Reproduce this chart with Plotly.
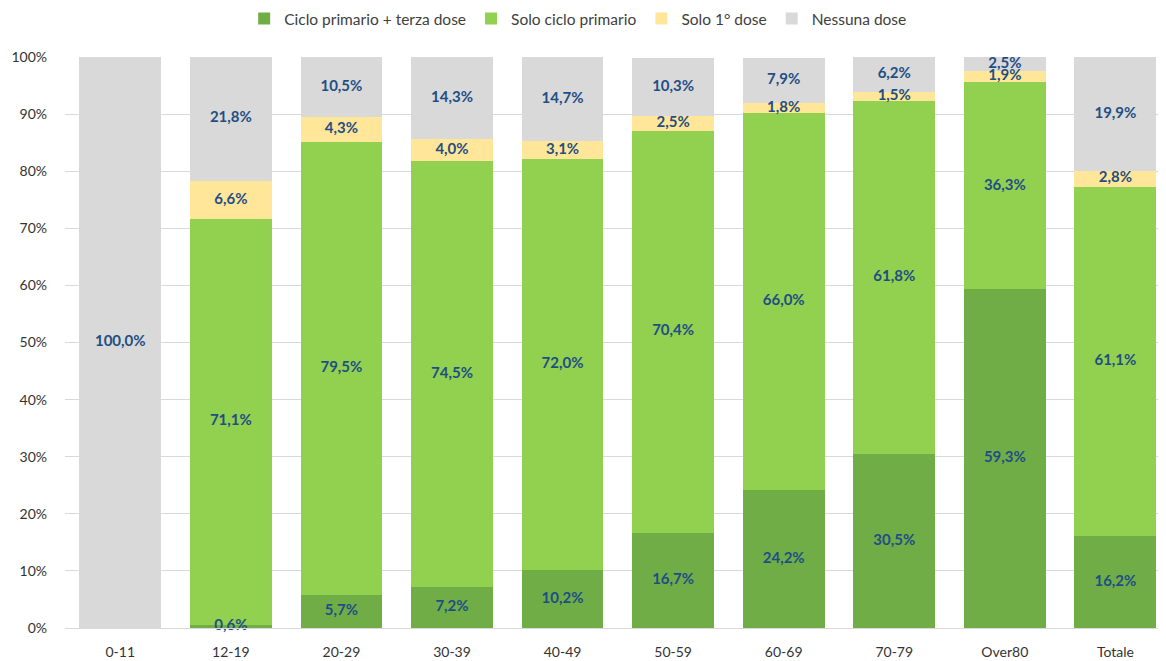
import plotly.graph_objects as go

categories = ["0-11", "12-19", "20-29", "30-39", "40-49", "50-59", "60-69", "70-79", "Over80", "Totale"]
terza = [0.0, 0.6, 5.7, 7.2, 10.2, 16.7, 24.2, 30.5, 59.3, 16.2]
primario = [0.0, 71.1, 79.5, 74.5, 72.0, 70.4, 66.0, 61.8, 36.3, 61.1]
prima = [0.0, 6.6, 4.3, 4.0, 3.1, 2.5, 1.8, 1.5, 1.9, 2.8]
nessuna = [100.0, 21.8, 10.5, 14.3, 14.7, 10.3, 7.9, 6.2, 2.5, 19.9]

series = [
    ("Ciclo primario + terza dose", terza, "#70AD47"),
    ("Solo ciclo primario", primario, "#92D050"),
    ("Solo 1° dose", prima, "#FFE699"),
    ("Nessuna dose", nessuna, "#D9D9D9"),
]

FONT = "Lato, Open Sans, sans-serif"
fig = go.Figure()
for name, vals, col in series:
    fig.add_trace(go.Bar(x=categories, y=vals, name=name, marker_color=col,
                         marker_line_width=0, width=0.74, hoverinfo="skip"))

# data labels at segment midpoints
base = [0.0] * len(categories)
lx, ly, lt = [], [], []
for name, vals, col in series:
    for i, v in enumerate(vals):
        if v > 0:
            lx.append(categories[i])
            ly.append(base[i] + v / 2)
            lt.append(f"{v:.1f}%".replace(".", ","))
        base[i] += v
fig.add_trace(go.Scatter(x=lx, y=ly, text=lt, mode="text", showlegend=False,
                         textfont=dict(family=FONT, size=15, color="#1F4E85", weight="bold"),
                         cliponaxis=False, hoverinfo="skip"))

fig.update_layout(
    barmode="stack",
    width=1166, height=661,
    margin=dict(l=57, r=0, t=49, b=41, autoexpand=False),
    plot_bgcolor="white", paper_bgcolor="white",
    font=dict(family=FONT, size=14, color="#404040"),
    legend=dict(orientation="h", x=0.489, xanchor="center", xref="container",
                y=1.0665, yanchor="middle", yref="paper",
                font=dict(size=15.5, color="#404040"),
                traceorder="normal", itemwidth=30),
    bargap=0.26,
)
fig.update_xaxes(range=[-0.5, 9.53], showline=True, linecolor="#D9D9D9", linewidth=1,
                 ticks="", tickfont=dict(size=14, color="#333333"), ticklabelstandoff=11,
                 automargin=False)
fig.update_yaxes(range=[0, 100], dtick=10, ticksuffix="%", showgrid=True, gridcolor="#D9D9D9",
                 gridwidth=1, zeroline=False, tickfont=dict(size=14, color="#333333"),
                 ticklabelstandoff=17, automargin=False)

fig.write_html("out.html")
